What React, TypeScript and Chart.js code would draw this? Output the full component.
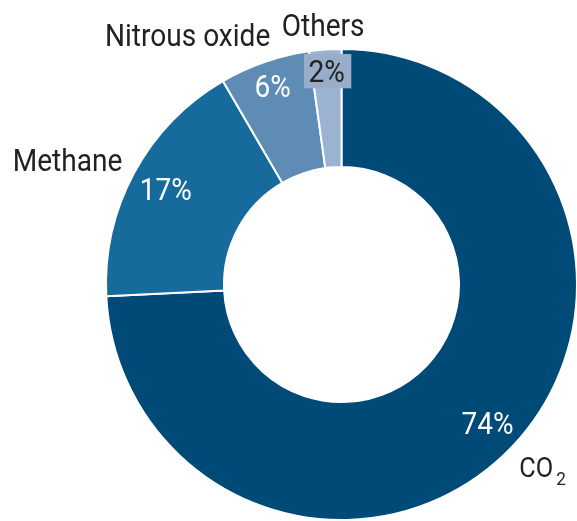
import React, { useEffect, useRef } from "react";
import { Chart, registerables } from "chart.js";

Chart.register(...registerables);

const categories = ["CO2", "Methane", "Nitrous oxide", "Others"];
const shares = [74.2, 17.4, 6.2, 2.2];
const percentLabels = ["74%", "17%", "6%", "2%"];
const colors = ["#004a77", "#176b9c", "#5e8cb5", "#9bb3d1"];

const FONT = "Roboto, 'Liberation Sans', sans-serif";
const SX = 0.905;

function drawText(ctx: CanvasRenderingContext2D, text: string, x: number, y: number, size: number, color: string, align: CanvasTextAlign) {
  ctx.save();
  ctx.translate(x, y);
  ctx.scale(SX, 1);
  ctx.font = `${size}px ${FONT}`;
  ctx.fillStyle = color;
  ctx.textAlign = align;
  ctx.textBaseline = "alphabetic";
  ctx.fillText(text, 0, 0);
  ctx.restore();
}

const labelPlugin = {
  id: "ghgLabels",
  afterDatasetsDraw(chart: any) {
    const ctx: CanvasRenderingContext2D = chart.ctx;
    const arcs = chart.getDatasetMeta(0).data;
    if (!arcs.length) return;
    const cx = arcs[0].x;
    const cy = arcs[0].y;
    const R = arcs[0].outerRadius;
    const radFrac = [0.856, 0.849, 0.893, 0.91];
    const textColor = ["#ffffff", "#ffffff", "#ffffff", "#222222"];
    arcs.forEach((arc: any, i: number) => {
      const mid = (arc.startAngle + arc.endAngle) / 2;
      const r = R * radFrac[i];
      const x = cx + Math.cos(mid) * r;
      const y = cy + Math.sin(mid) * r;
      if (i === 3) {
        ctx.save();
        ctx.fillStyle = "#97adca";
        ctx.fillRect(x - 22.7, y - 16.7, 47.3, 34.3);
        ctx.restore();
      }
      drawText(ctx, percentLabels[i], x, y + 11, 31, textColor[i], "center");
    });
    const dark = "#222222";
    // category names outside the ring
    drawText(ctx, categories[1], cx - 328.8, cy - 113.8, 31, dark, "left");
    drawText(ctx, categories[2], cx - 236.5, cy - 238.5, 31, dark, "left");
    drawText(ctx, categories[3], cx - 59.8, cy - 248.5, 31, dark, "left");
    // CO2 with subscript
    const coX = cx + 177.8;
    const coY = cy + 192.2;
    drawText(ctx, "CO", coX, coY, 28, dark, "left");
    ctx.save();
    ctx.font = `28px ${FONT}`;
    const w = ctx.measureText("CO").width * SX;
    ctx.restore();
    drawText(ctx, "2", coX + w + 3, coY + 8.3, 19, dark, "left");
  },
};

export default function App() {
  const ref = useRef<HTMLCanvasElement | null>(null);
  useEffect(() => {
    if (!ref.current) return;
    const chart = new Chart(ref.current, {
      type: "doughnut",
      data: {
        labels: categories,
        datasets: [
          {
            data: shares,
            backgroundColor: colors,
            borderColor: "#ffffff",
            borderWidth: 2,
          },
        ],
      },
      options: {
        responsive: false,
        animation: false,
        radius: 235.5,
        cutout: "49.9%",
        layout: { padding: { left: 106, right: 0, top: 50, bottom: 2 } },
        plugins: {
          legend: { display: false },
          tooltip: { enabled: false },
        },
      } as any,
      plugins: [labelPlugin],
    });
    return () => chart.destroy();
  }, []);
  return (
    <div style={{ position: "fixed", left: 0, top: 0, width: 577, height: 521, background: "#fff" }}>
      <canvas ref={ref} width={577} height={521} />
    </div>
  );
}
